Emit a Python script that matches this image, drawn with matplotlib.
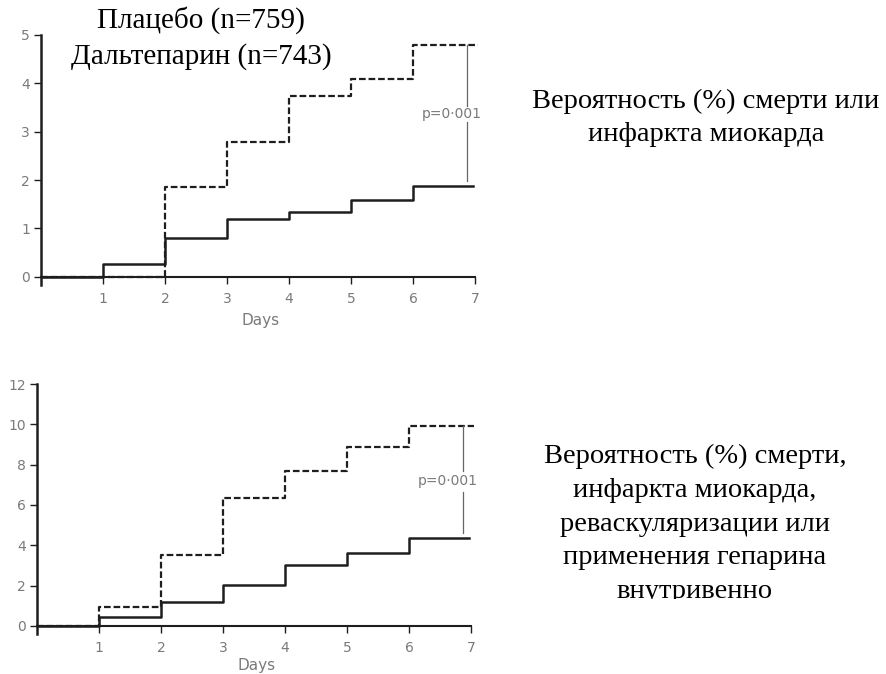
import numpy as np
import matplotlib.pyplot as plt

# Кумулятивная вероятность (%) по дням
days = [0, 1, 2, 3, 4, 5, 6, 7]

# верхний график: смерть или инфаркт миокарда
top_dalteparin = [0, 0.27, 0.8, 1.2, 1.33, 1.58, 1.88, 1.88]
top_placebo = [0, 0, 1.85, 2.78, 3.73, 4.1, 4.8, 4.8]

# нижний график: + реваскуляризация или гепарин в/в
bot_dalteparin = [0, 0.42, 1.18, 2.02, 3.0, 3.6, 4.38, 4.38]
bot_placebo = [0, 0.92, 3.52, 6.36, 7.68, 8.9, 9.9, 9.9]

top_yticks = [0, 1, 2, 3, 4, 5]
bot_yticks = [0, 2, 4, 6, 8, 10, 12]
xticks = [1, 2, 3, 4, 5, 6, 7]
p_text = "p=0·001"

legend_lines = ["Плацебо (n=759)", "Дальтепарин (n=743)"]
top_caption = "Вероятность (%) смерти или\nинфаркта миокарда"
bot_caption = ("Вероятность (%) смерти,\nинфаркта миокарда,\n"
               "реваскуляризации или\nприменения гепарина\nвнутривенно")

W, H = 887, 674
fig = plt.figure(figsize=(W / 100, H / 100), dpi=100)
gray = "#7a7a7a"
ink = "#1e1e1e"


def panel(rect, dal, pla, yticks, ymin, p_y, gap, labelpad):
    ax = fig.add_axes(rect)
    xd = np.array(days, dtype=float)
    xd[-1] = 6.97
    ax.step(xd, dal, where="post", color=ink, lw=1.8)
    xp = np.array(days, dtype=float)
    xp[-1] = 7.04
    ax.step(xp, pla, where="post", color=ink, lw=1.6, dashes=(3, 1.3))
    # скобка p-значения между кривыми, с разрывом под подпись
    xb = 6.87
    ax.plot([xb, xb], [dal[-1] + 0.02 * yticks[-1], p_y - gap[0]],
            color="#666666", lw=0.9)
    ax.plot([xb, xb], [p_y + gap[1], pla[-1]], color="#666666", lw=0.9)
    ax.text(6.63, p_y, p_text, ha="center", va="center",
            fontsize=10, color=gray)

    ax.set_xlim(0, 7.08)
    ax.set_ylim(ymin, yticks[-1])
    for s in ["top", "right"]:
        ax.spines[s].set_visible(False)
    ax.spines["bottom"].set_position(("data", 0))
    ax.spines["bottom"].set_bounds(0, 7)
    ax.spines["left"].set_linewidth(1.8)
    ax.spines["bottom"].set_linewidth(1.5)
    ax.spines["left"].set_color(ink)
    ax.spines["bottom"].set_color(ink)
    ax.set_xticks(xticks)
    ax.set_yticks(yticks)
    ax.tick_params(axis="both", direction="out", length=5, width=1.0,
                   colors=ink, labelcolor=gray, labelsize=10)
    ax.tick_params(axis="x", pad=6)
    ax.tick_params(axis="y", pad=3)
    ax.set_xlabel("Days", color=gray, fontsize=11, labelpad=labelpad)
    ax.patch.set_alpha(0)
    return ax


ax1 = panel([41 / W, 1 - 285 / H, 439 / W, 250 / H],
            top_dalteparin, top_placebo, top_yticks, -0.17, 3.36, (0.16, 0.17), 5)
ax2 = panel([37 / W, 1 - 634 / H, 439 / W, 250 / H],
            bot_dalteparin, bot_placebo, bot_yticks, -0.4, 7.2, (0.55, 0.5), 2)

serif = "Liberation Serif"
fig.text(201 / W, 1 - 20 / H, legend_lines[0], ha="center", va="center",
         fontsize=21, family=serif, color="black")
fig.text(201 / W, 1 - 57 / H, legend_lines[1], ha="center", va="center",
         fontsize=21, family=serif, color="black")

fig.text(706 / W, 1 - 118 / H, top_caption, ha="center", va="center",
         fontsize=20.5, family=serif, linespacing=1.42, color="black")

# подпись нижнего графика обрезана снизу рамкой
cap = fig.add_axes([480 / W, 1 - 599 / H, 407 / W, 182 / H])
cap.axis("off")
cap.text((695 - 480) / 407, 1 - (524 - 417) / 182, bot_caption, ha="center",
         va="center", transform=cap.transAxes, fontsize=20.5, family=serif,
         linespacing=1.45, color="black", clip_on=True)

fig.savefig("out.png", dpi=100)
